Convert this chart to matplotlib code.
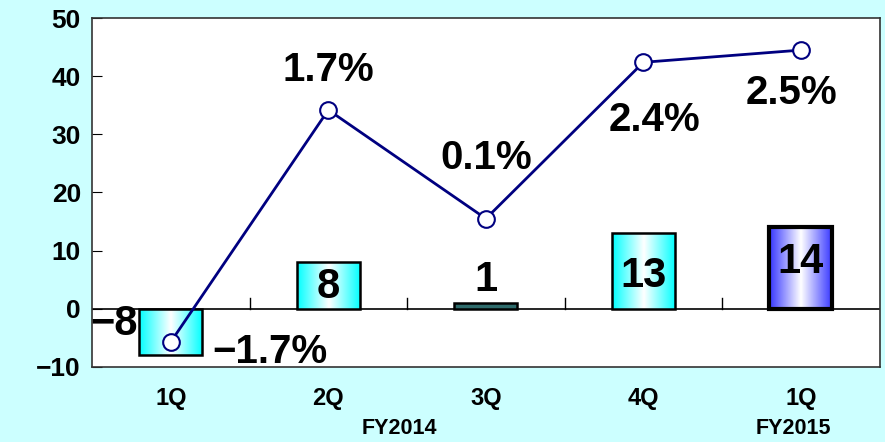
import numpy as np
import matplotlib.pyplot as plt
from matplotlib.colors import LinearSegmentedColormap

quarters = ["1Q", "2Q", "3Q", "4Q", "1Q"]
bar_values = [-8, 8, 1, 13, 14]
line_values = [-5.7, 34.2, 15.5, 42.4, 44.5]
growth_labels = ["\u22121.7%", "1.7%", "0.1%", "2.4%", "2.5%"]
bar_labels = ["\u22128", "8", "1", "13", "14"]

plt.rcParams['font.family'] = ['Liberation Sans', 'DejaVu Sans']
plt.rcParams['font.weight'] = 'bold'

fig = plt.figure(figsize=(8.85, 4.42), dpi=100, facecolor='#ccffff')
ax = fig.add_axes([0.104, 0.170, 0.890, 0.789])
x = np.arange(len(quarters))

ax.set_xlim(-0.5, 4.5)
ax.set_ylim(-10, 50)

cyan = LinearSegmentedColormap.from_list('cy', ['#00ffff', '#ffffff', '#00ffff'])
blue = LinearSegmentedColormap.from_list('bl', ['#3333ff', '#ffffff', '#3333ff'])
grad = np.linspace(0, 1, 256).reshape(1, -1)

w = 0.4
for i, v in enumerate(bar_values):
    last = i == len(bar_values) - 1
    lw = 3 if last else 1.8
    if i == 2:
        ax.bar(x[i], v, w, color='#2e6b6b', edgecolor='black', linewidth=lw, zorder=2)
        continue
    bar = ax.bar(x[i], v, w, color='none', edgecolor='black', linewidth=lw, zorder=3)
    im = ax.imshow(grad, cmap=blue if last else cyan, aspect='auto',
                   extent=[x[i] - w / 2, x[i] + w / 2, min(0, v), max(0, v)], zorder=2)
    im.set_clip_path(bar.patches[0])

ax.axhline(0, color='black', lw=1.2, zorder=1)
for b in np.arange(0.5, 4.5, 1):
    ax.plot([b, b], [0, 1.8], color='black', lw=1, zorder=1)

ax.plot(x, line_values, color='#000080', lw=2, marker='o', ms=12,
        mfc='white', mec='#000080', mew=1.5, zorder=4)

# growth rate labels
growth_pos = [(0.63, -7.4), (1.0, 41.1), (2.0, 25.9), (3.07, 32.5), (3.94, 37.1)]
for (gx, gy), t in zip(growth_pos, growth_labels):
    ax.text(gx, gy, t, fontsize=29, ha='center', va='center', zorder=5)

# bar value labels
bar_pos = [(-0.36, -2.7), (1.0, 3.8), (2.0, 5.0), (3.0, 5.7), (4.0, 8.1)]
for (bx, by), t in zip(bar_pos, bar_labels):
    ax.text(bx, by, t, fontsize=30, ha='center', va='center', zorder=5)

ax.set_yticks(range(-10, 51, 10))
ax.set_yticklabels([("\u2212" if t < 0 else "") + str(abs(t)) for t in range(-10, 51, 10)])
ax.tick_params(axis='y', direction='in', length=7, labelsize=19, pad=8)
ax.set_xticks([])
for s in ax.spines.values():
    s.set_color('#333333')
    s.set_linewidth(1.2)

for i, q in enumerate(quarters):
    ax.text(x[i], -15.5, q, fontsize=17, ha='center', va='center', clip_on=False)
ax.text(1.45, -20.6, "FY2014", fontsize=15.5, ha='center', va='center', clip_on=False)
ax.text(3.95, -20.6, "FY2015", fontsize=15.5, ha='center', va='center', clip_on=False)

fig.savefig('out.png', dpi=100, facecolor=fig.get_facecolor())
